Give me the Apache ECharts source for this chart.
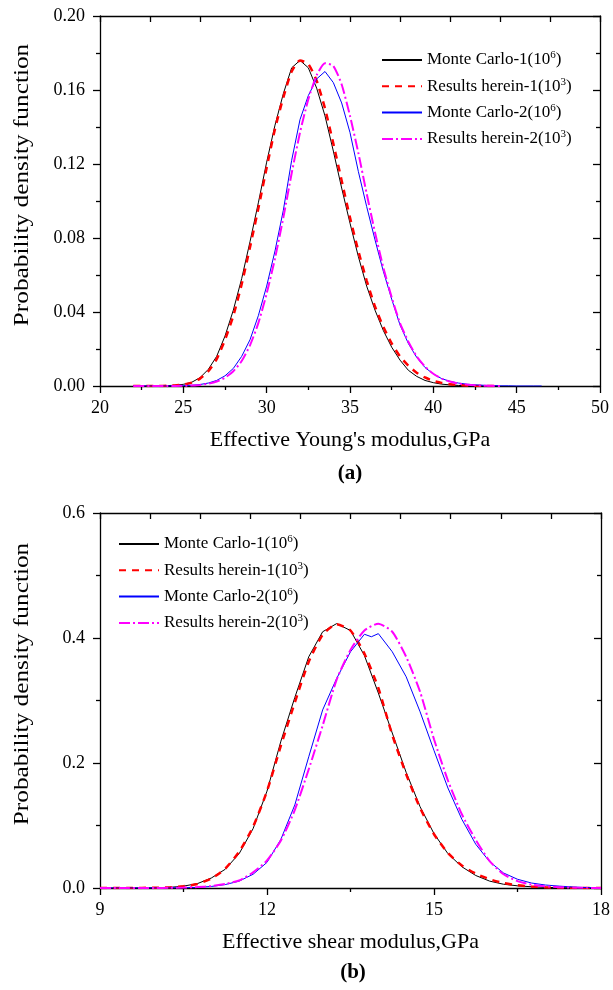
<!DOCTYPE html>
<html><head><meta charset="utf-8">
<script src="https://cdn.jsdelivr.net/npm/echarts@6/dist/echarts.min.js"></script>
<style>html,body{margin:0;padding:0;background:#fff}#c{width:613px;height:990px}</style>
</head><body><div id="c"></div>
<script>
const FONT = 'Liberation Serif';
const names = ['Monte Carlo-1', 'Results herein-1', 'Monte Carlo-2', 'Results herein-2'];
const exps = ['6', '3', '6', '3'];
const yTitle = 'Probability density function';

// (a) Effective Young's modulus
const xTicksA = [20, 25, 30, 35, 40, 45, 50];
const yTicksA = [0, 0.04, 0.08, 0.12, 0.16, 0.20];
const xA = [22,22.5,23,23.5,24,24.5,25,25.5,26,26.5,27,27.5,28,28.5,29,29.5,30,30.5,31,31.5,32,32.5,33,33.5,34,34.5,35,35.5,36,36.5,37,37.5,38,38.5,39,39.5,40,40.5,41,41.5,42,42.5,43,43.5,44,44.5,45,45.5,46,46.5,47];
const mc1A = [0,0,0,0.0001,0.0002,0.0004,0.0009,0.002,0.0045,0.009,0.016,0.027,0.041,0.058,0.078,0.099,0.121,0.141,0.158,0.172,0.176,0.172,0.161,0.146,0.127,0.107,0.088,0.070,0.054,0.041,0.030,0.021,0.014,0.0085,0.0052,0.003,0.0018,0.001,0.0006,0.0003,0.0001,0,0,0,0,null,null,null,null,null,null];
const rh1A = [0,0,0,0,0.0001,0.0003,0.0008,0.0018,0.004,0.008,0.0145,0.025,0.038,0.055,0.075,0.096,0.118,0.139,0.156,0.170,0.176,0.174,0.165,0.150,0.131,0.111,0.091,0.073,0.057,0.043,0.032,0.023,0.016,0.011,0.0072,0.0046,0.0028,0.0017,0.001,0.0006,0.0003,0.0001,0,0,0,null,null,null,null,null,null];
const mc2A = [0,0,0,0,0,0.0001,0.0002,0.0004,0.0008,0.0016,0.003,0.0055,0.0095,0.016,0.025,0.038,0.054,0.073,0.095,0.122,0.144,0.157,0.166,0.170,0.164,0.153,0.137,0.116,0.097,0.079,0.062,0.047,0.033,0.023,0.0155,0.010,0.0065,0.004,0.0025,0.0016,0.001,0.0006,0.0004,0.0002,0.0001,0.0001,0,0,0,0,null];
const rh2A = [0,0,0,0,0,0,0.0001,0.0003,0.0006,0.0012,0.0024,0.0045,0.008,0.0135,0.022,0.034,0.05,0.069,0.091,0.115,0.137,0.155,0.168,0.1745,0.173,0.163,0.146,0.126,0.104,0.083,0.064,0.048,0.034,0.024,0.016,0.0105,0.0066,0.004,0.0024,0.0014,0.0008,0.0004,0.0002,0.0001,0,null,null,null,null,null,null];

// (b) Effective shear modulus
const xTicksB = [9, 12, 15, 18];
const yTicksB = [0, 0.2, 0.4, 0.6];
const xB = [9,9.25,9.5,9.75,10,10.25,10.5,10.75,11,11.25,11.5,11.75,12,12.25,12.5,12.75,13,13.25,13.5,13.75,14,14.25,14.5,14.75,15,15.25,15.5,15.75,16,16.25,16.5,16.75,17,17.25,17.5,17.75,18];
const mc1B = [0,0,0,0.0002,0.0005,0.001,0.003,0.007,0.016,0.030,0.055,0.095,0.155,0.235,0.305,0.37,0.41,0.423,0.412,0.372,0.312,0.248,0.185,0.13,0.087,0.055,0.034,0.02,0.011,0.006,0.0035,0.002,0.001,0.0005,0.0002,0.0001,0];
const rh1B = [0,0,0.0001,0.0002,0.0005,0.001,0.0028,0.0065,0.015,0.031,0.058,0.098,0.155,0.228,0.297,0.362,0.405,0.422,0.412,0.375,0.32,0.245,0.182,0.128,0.086,0.056,0.036,0.023,0.014,0.008,0.0045,0.0025,0.0012,0.0006,0.0002,0.0001,0];
const xB2 = [9,9.25,9.5,9.75,10,10.25,10.5,10.75,11,11.25,11.5,11.75,12,12.25,12.5,12.75,13,13.25,13.5,13.75,13.875,14,14.25,14.5,14.75,15,15.25,15.5,15.75,16,16.25,16.5,16.75,17,17.25,17.5,17.75,18];
const mc2B = [0,0,0,0,0.0001,0.0002,0.0005,0.001,0.0025,0.0055,0.011,0.022,0.041,0.078,0.133,0.21,0.285,0.335,0.378,0.406,0.402,0.407,0.378,0.338,0.282,0.22,0.16,0.11,0.07,0.042,0.024,0.014,0.008,0.0048,0.003,0.0016,0.0006,0.0001];
const rh2B = [0,0,0,0,0.0001,0.0003,0.0007,0.0015,0.003,0.0065,0.012,0.025,0.044,0.076,0.125,0.19,0.26,0.333,0.381,0.412,0.423,0.41,0.37,0.314,0.238,0.172,0.118,0.077,0.043,0.022,0.011,0.0055,0.0028,0.0013,0.0006,0.0002,0];

function pairs(xs, ys) {
  const out = [];
  xs.forEach((x, i) => { if (ys[i] !== null && ys[i] !== undefined) out.push([x, ys[i]]); });
  return out;
}

const AX = { color: '#000', width: 1.3 };
const labelStyle = { fontFamily: FONT, fontSize: 18, color: '#000' };
const nameStyle = { fontFamily: FONT, fontSize: 22, color: '#000' };

function mainX(gi, ticks, name) {
  const min = ticks[0], max = ticks[ticks.length - 1];
  return {
    gridIndex: gi, type: 'value', position: 'bottom', min: min, max: max, interval: ticks[1] - ticks[0],
    axisLine: { onZero: false, lineStyle: AX },
    axisTick: { inside: false, length: 7, lineStyle: AX },
    minorTick: { show: true, splitNumber: 2, length: 4, lineStyle: AX },
    splitLine: { show: false }, minorSplitLine: { show: false },
    axisLabel: Object.assign({ margin: 13 }, labelStyle),
    name: name, nameLocation: 'middle', nameGap: 43, nameTextStyle: nameStyle
  };
}
function topX(gi) {
  return {
    gridIndex: gi, type: 'value', position: 'top', min: 0, max: 10, interval: 1,
    axisLine: { onZero: false, lineStyle: AX },
    axisTick: { inside: true, length: 6, lineStyle: AX },
    axisLabel: { show: false }, splitLine: { show: false }
  };
}
function leftY(gi, ticks, dec) {
  return {
    gridIndex: gi, type: 'value', position: 'left', min: ticks[0], max: ticks[ticks.length - 1], interval: ticks[1] - ticks[0],
    axisLine: { onZero: false, lineStyle: AX },
    axisTick: { inside: false, length: 7, lineStyle: AX },
    minorTick: { show: true, splitNumber: 2, length: 4, lineStyle: AX },
    splitLine: { show: false }, minorSplitLine: { show: false },
    axisLabel: Object.assign({ margin: 15, formatter: v => v.toFixed(dec) }, labelStyle)
  };
}
function rightY(gi, ticks) {
  return {
    gridIndex: gi, type: 'value', position: 'right', min: ticks[0], max: ticks[ticks.length - 1], interval: ticks[1] - ticks[0],
    axisLine: { onZero: false, lineStyle: AX },
    axisTick: { inside: true, length: 7, lineStyle: AX },
    minorTick: { show: true, splitNumber: 2, length: 4, lineStyle: AX },
    axisLabel: { show: false }, splitLine: { show: false }, minorSplitLine: { show: false }
  };
}

const styles = [
  { color: '#000000', width: 1, type: 'solid', smooth: false },
  { color: '#ff0000', width: 2.5, type: [7, 6], smooth: 0.2 },
  { color: '#0000ff', width: 1, type: 'solid', smooth: false },
  { color: '#ff00ff', width: 2, type: [11, 3, 2, 3], smooth: 0.2 }
];
function mkSeries(i, xi, yi, data) {
  const s = styles[i];
  return {
    type: 'line', name: names[i], xAxisIndex: xi, yAxisIndex: yi, data: data,
    symbol: 'none', showSymbol: false, smooth: s.smooth, animation: false,
    lineStyle: { color: s.color, width: s.width, type: s.type },
    itemStyle: { color: s.color }
  };
}

const legendBase = {
  data: names, orient: 'vertical', itemWidth: 40, itemHeight: 14, itemGap: 6.3, padding: 0,
  selectedMode: false,
  itemStyle: { opacity: 0 },
  formatter: n => n + '(10{s|' + exps[names.indexOf(n)] + '})',
  textStyle: {
    fontFamily: FONT, fontSize: 17, color: '#000', lineHeight: 20,
    rich: { s: { fontFamily: FONT, fontSize: 11, color: '#000', verticalAlign: 'top', lineHeight: 14 } }
  }
};

function yTitleText(cy) {
  return {
    type: 'text', x: 22, y: cy, rotation: Math.PI / 2, scaleX: 1.15, silent: true,
    style: { text: yTitle, font: '22px "Liberation Serif"', fill: '#000', align: 'center', verticalAlign: 'middle' }
  };
}

const option = {
  backgroundColor: '#fff',
  animation: false,
  grid: [
    { left: 100, top: 16, width: 500, height: 370 },
    { left: 100, top: 513, width: 507, height: 375 }
  ],
  xAxis: [mainX(0, xTicksA, "Effective Young's modulus,GPa"), topX(0), mainX(1, xTicksB, 'Effective shear modulus,GPa'), topX(1)],
  yAxis: [leftY(0, yTicksA, 2), rightY(0, yTicksA), leftY(1, yTicksB, 1), rightY(1, yTicksB)],
  legend: [
    Object.assign({}, legendBase, { left: 381, top: 50 }),
    Object.assign({}, legendBase, { left: 118, top: 534 })
  ],
  graphic: [
    yTitleText(185),
    yTitleText(684),
    { type: 'text', x: 350, y: 474, style: { text: '(a)', font: 'bold 21px "Liberation Serif"', fill: '#000', align: 'center', verticalAlign: 'middle' } },
    { type: 'text', x: 353, y: 973, style: { text: '(b)', font: 'bold 21px "Liberation Serif"', fill: '#000', align: 'center', verticalAlign: 'middle' } }
  ],
  series: [
    mkSeries(0, 0, 0, pairs(xA, mc1A)),
    mkSeries(1, 0, 0, pairs(xA, rh1A)),
    mkSeries(2, 0, 0, pairs(xA, mc2A)),
    mkSeries(3, 0, 0, pairs(xA, rh2A)),
    mkSeries(0, 2, 2, pairs(xB, mc1B)),
    mkSeries(1, 2, 2, pairs(xB, rh1B)),
    mkSeries(2, 2, 2, pairs(xB2, mc2B)),
    mkSeries(3, 2, 2, pairs(xB, rh2B))
  ]
};
const chart = echarts.init(document.getElementById('c'));
chart.setOption(option);
</script></body></html>
